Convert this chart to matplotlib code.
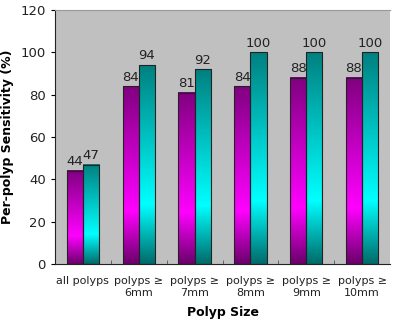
import numpy as np
import matplotlib.pyplot as plt
from matplotlib.colors import LinearSegmentedColormap

categorias = ["all polyps", "polyps \u2265\n6mm", "polyps \u2265\n7mm",
              "polyps \u2265\n8mm", "polyps \u2265\n9mm", "polyps \u2265\n10mm"]
serie_a = [44, 84, 81, 84, 88, 88]
serie_b = [47, 94, 92, 100, 100, 100]

fig = plt.figure(figsize=(3.94, 3.35), dpi=100)
ax = fig.add_axes([55/394, 1 - 264/335, 335/394, 254/335])
ax.set_facecolor("#c0c0c0")

x = np.arange(len(categorias))
w = 0.29

# degradado tipo Excel: oscuro abajo, brillante a ~30%, oscuro arriba
cm_a = LinearSegmentedColormap.from_list("a", [(0, "#6a006a"), (0.3, "#ff00ff"), (1, "#800080")])
cm_b = LinearSegmentedColormap.from_list("b", [(0, "#006a6a"), (0.3, "#00ffff"), (1, "#008080")])
grad = np.linspace(0, 1, 256).reshape(-1, 1)

for vals, off, cm in [(serie_a, -w/2, cm_a), (serie_b, w/2, cm_b)]:
    bars = ax.bar(x + off, vals, w, facecolor="none", edgecolor="#222222", linewidth=0.8, zorder=3)
    for b, v in zip(bars, vals):
        x0, y0 = b.get_x(), b.get_y()
        ax.imshow(grad, cmap=cm, origin="lower", aspect="auto",
                  extent=[x0, x0 + b.get_width(), y0, y0 + b.get_height()], zorder=2)
        ax.text(b.get_x() + b.get_width()/2, v + 1.2, str(v), ha="center", va="bottom",
                fontsize=9.5, color="#222222")

ax.set_xlim(-0.5, len(categorias) - 0.5)
ax.set_ylim(0, 120)
ax.set_yticks(range(0, 121, 20))
ax.set_xticks(x)
ax.set_xticklabels(categorias, fontsize=8, color="#222222")
ax.set_xticks(np.arange(0.5, len(categorias) - 0.5, 1), minor=True)
ax.tick_params(axis="x", which="major", length=0, pad=9)
ax.tick_params(axis="x", which="minor", length=3, direction="in", color="#555555")
ax.tick_params(axis="y", labelsize=9.5, labelcolor="#222222", length=3)
ax.spines["top"].set_color("#999999")
ax.spines["right"].set_visible(False)
ax.spines["left"].set_color("#222222")
ax.spines["bottom"].set_color("#222222")

ax.set_ylabel("Per-polyp Sensitivity (%)", fontsize=9, fontweight="bold", labelpad=5)
ax.set_xlabel("Polyp Size", fontsize=9, fontweight="bold", labelpad=6)

plt.savefig("out.png", dpi=100)
